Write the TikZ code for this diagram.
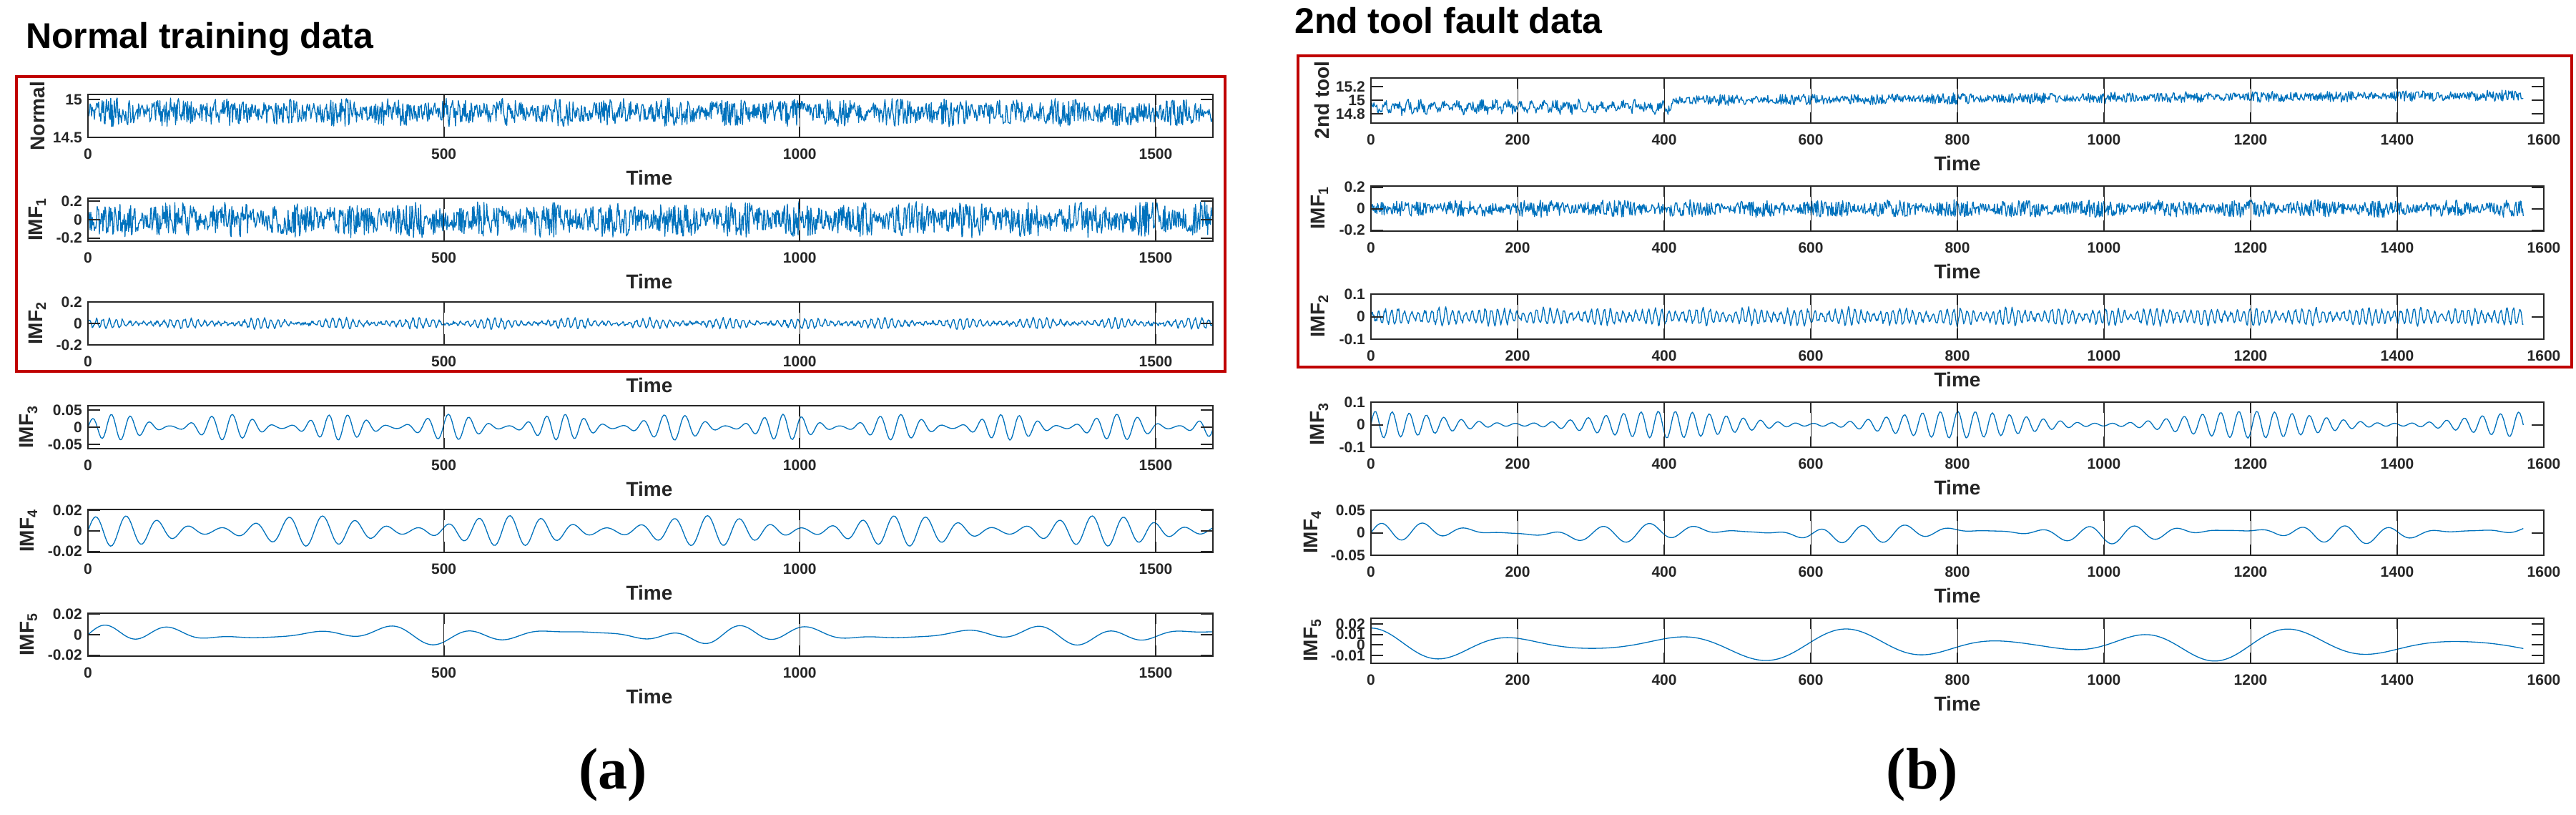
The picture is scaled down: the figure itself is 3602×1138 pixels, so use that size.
\documentclass[tikz,border=0pt]{standalone}
\usepackage{fontspec}
\setmainfont{Liberation Sans}
\newfontfamily\serifb{Liberation Serif}
\pgfmathsetseed{7}
\definecolor{mblue}{HTML}{0072BD}
\definecolor{axc}{HTML}{262626}
\definecolor{redbox}{HTML}{C00000}
\tikzset{
 sig/.style={mblue,line width=1.3pt,line join=round},
 axbox/.style={axc,line width=2.2pt},
 tk/.style={axc,line width=2pt},
 grd/.style={axc,line width=1pt},
 tlab/.style={font=\fontsize{21}{21}\selectfont\bfseries,text=axc,inner sep=0pt},
 ylab/.style={font=\fontsize{28}{28}\selectfont\bfseries,text=axc,inner sep=0pt,rotate=90},
 tilab/.style={font=\fontsize{28}{28}\selectfont\bfseries,text=axc,inner sep=0pt},
 ttl/.style={font=\fontsize{50}{50}\selectfont\bfseries,inner sep=0pt,anchor=base west},
 caplab/.style={font=\fontsize{82}{82}\selectfont\serifb\bfseries,inner sep=0pt},
 rbox/.style={redbox,line width=4pt}
}
\newcommand\sigplot[9]{\draw[sig] plot[domain=0:#8,samples=#7,variable=\t] ({#1+#2*\t},{#3+#4*((#6)-(#9))/((#6)-(#5))});}
\newcommand\yax[8]{%
 \foreach \v in {#7}{%
  \pgfmathsetmacro\yy{#3+#4*((#6)-\v)/((#6)-(#5))}
  \draw[tk] (#1,\yy) -- (#1+17,\yy);
  \draw[tk] (#2,\yy) -- (#2-17,\yy);
  \node[tlab,anchor=east] at (#1-8,\yy) {#8};}}
\newcommand\xax[6]{%
 \foreach \v in {#5}{%
  \pgfmathsetmacro\xx{#1+#2*\v}
  \draw[grd] (\xx,#3) -- (\xx,#3+#4);
  \draw[tk] (\xx,#3) -- (\xx,#3+15);
  \draw[tk] (\xx,#3+#4) -- (\xx,#3+#4-15);
  \node[tlab] at (\xx,#3+#4+23) {\v};}
 \node[tilab] at (#6,#3+#4+56) {Time};}
\begin{document}
\begin{tikzpicture}[x=1pt,y=-1pt]
\useasboundingbox[fill=white] (0,0) rectangle (3602,1138);
% ---------------- left panel ----------------
\node[ttl] (tl) at (36,67) {Normal training data};
\draw[rbox] (23,107) rectangle (1713,519);
\sigplot{123}{0.9953}{132}{60}{14.5}{15.066}{1580}{1580}{14.83+0.19*rand*(0.55+0.45*abs(sin(\t*2.3)))}
\sigplot{123}{0.9953}{277}{60}{-0.235}{0.235}{1580}{1580}{0.2*rand*(0.5+0.5*abs(sin(\t*2.1+30*sin(\t*0.3))))}
\sigplot{123}{0.9953}{422}{60}{-0.2}{0.2}{1580}{1580}{0.045*sin(38*mod(\t,9.47368)+30*sin(\t*1.7))*(0.6+0.4*sin(\t*3.3))+0.015*rand}
\sigplot{123}{0.9953}{567}{60}{-0.0625}{0.0625}{700}{1580}{0.038*sin(13*mod(\t,27.6923)+40*sin(\t*1.1))*(0.55+0.45*sin(\t*2.3))}
\sigplot{123}{0.9953}{712}{60}{-0.021}{0.021}{600}{1580}{0.015*sin(8*mod(\t,45)+35*sin(\t*0.7))*(0.6+0.4*sin(\t*1.3+40))}
\sigplot{123}{0.9953}{857}{60}{-0.021}{0.021}{500}{1580}{0.008*sin(\t*3.6+50*sin(\t*0.45))*(0.5+0.5*sin(\t*0.8+70))+0.003*sin(\t*1.2)}
\foreach \tp in {132,277,422,567,712,857}{\draw[axbox] (123,\tp) rectangle (1696,\tp+60);
 \xax{123}{0.9953}{\tp}{60}{0,500,1000,1500}{908}}
\yax{123}{1696}{132}{60}{14.5}{15.066}{15,14.5}{\v}
\yax{123}{1696}{277}{60}{-0.235}{0.235}{0.2,0,-0.2}{\v}
\yax{123}{1696}{422}{60}{-0.2}{0.2}{0.2,0,-0.2}{\v}
\yax{123}{1696}{567}{60}{-0.0625}{0.0625}{0.05,0,-0.05}{\v}
\yax{123}{1696}{712}{60}{-0.021}{0.021}{0.02,0,-0.02}{\v}
\yax{123}{1696}{857}{60}{-0.021}{0.021}{0.02,0,-0.02}{\v}
\node[ylab] (ln) at (52,162) {Normal};
\node[ylab] (l1) at (52,307) {IMF$_{\mathbf 1}$};
\node[ylab] (l2) at (52,452) {IMF$_{\mathbf 2}$};
\node[ylab] (l3) at (40,597) {IMF$_{\mathbf 3}$};
\node[ylab] (l4) at (40,742) {IMF$_{\mathbf 4}$};
\node[ylab] (l5) at (40,887) {IMF$_{\mathbf 5}$};
\node[caplab] (ca) at (857,1083) {(a)};
% ---------------- right panel ----------------
\node[ttl] (tr) at (1810,46) {2nd tool fault data};
\draw[rbox] (1815,78) rectangle (3596,513);
\sigplot{1917}{1.025}{109}{63}{14.66}{15.33}{1572}{1572}{14.9+0.05*sin(22*mod(\t,16.3636)+60*sin(\t*1.3))*(\t<410)+(\t>=410)*(0.1+0.07*(\t-410)/1160)+0.085*rand*(0.6+0.4*abs(sin(\t*1.7)))}
\sigplot{1917}{1.025}{260}{63}{-0.21}{0.21}{1572}{1572}{0.085*rand*(0.45+0.55*abs(sin(\t*1.9+20*sin(\t*0.5))))}
\sigplot{1917}{1.025}{411}{63}{-0.1}{0.1}{1572}{1572}{0.035*sin(40*mod(\t,9)+50*sin(\t*2.1))*(0.4+0.6*abs(sin(\t*2.6+20*sin(\t*0.7))))+0.01*rand}
\sigplot{1917}{1.025}{562}{63}{-0.1}{0.1}{700}{1572}{0.06*sin(15*mod(\t,24)+40*sin(\t*0.8))*(0.55+0.45*cos(\t*0.9))}
\sigplot{1917}{1.025}{713}{63}{-0.05}{0.05}{600}{1572}{0.02*sin(\t*6+40*sin(\t*0.6))*(0.5+0.5*sin(\t*1.1+60))+0.005*sin(\t)}
\sigplot{1917}{1.025}{864}{63}{-0.0173}{0.0253}{500}{1572}{0.016*cos(\t*1.7+30*sin(\t*0.37))*(0.6+0.4*cos(\t*0.6))}
\foreach \tp in {109,260,411,562,713,864}{\draw[axbox] (1917,\tp) rectangle (3557,\tp+63);
 \xax{1917}{1.025}{\tp}{63}{0,200,400,600,800,1000,1200,1400,1600}{2737}}
\yax{1917}{3557}{109}{63}{14.66}{15.33}{15.2,15,14.8}{\v}
\yax{1917}{3557}{260}{63}{-0.21}{0.21}{0.2,0,-0.2}{\v}
\yax{1917}{3557}{411}{63}{-0.1}{0.1}{0.1,0,-0.1}{\v}
\yax{1917}{3557}{562}{63}{-0.1}{0.1}{0.1,0,-0.1}{\v}
\yax{1917}{3557}{713}{63}{-0.05}{0.05}{0.05,0,-0.05}{\v}
\yax{1917}{3557}{864}{63}{-0.0173}{0.0253}{0.02,0.01,0,-0.01}{\v}
\node[ylab] (rn) at (1848,140) {2nd tool};
\node[ylab] (r1) at (1845,291) {IMF$_{\mathbf 1}$};
\node[ylab] (r2) at (1845,442) {IMF$_{\mathbf 2}$};
\node[ylab] (r3) at (1845,593) {IMF$_{\mathbf 3}$};
\node[ylab] (r4) at (1835,744) {IMF$_{\mathbf 4}$};
\node[ylab] (r5) at (1835,895) {IMF$_{\mathbf 5}$};
\node[caplab] (cb) at (2688,1083) {(b)};
\end{tikzpicture}
\end{document}
